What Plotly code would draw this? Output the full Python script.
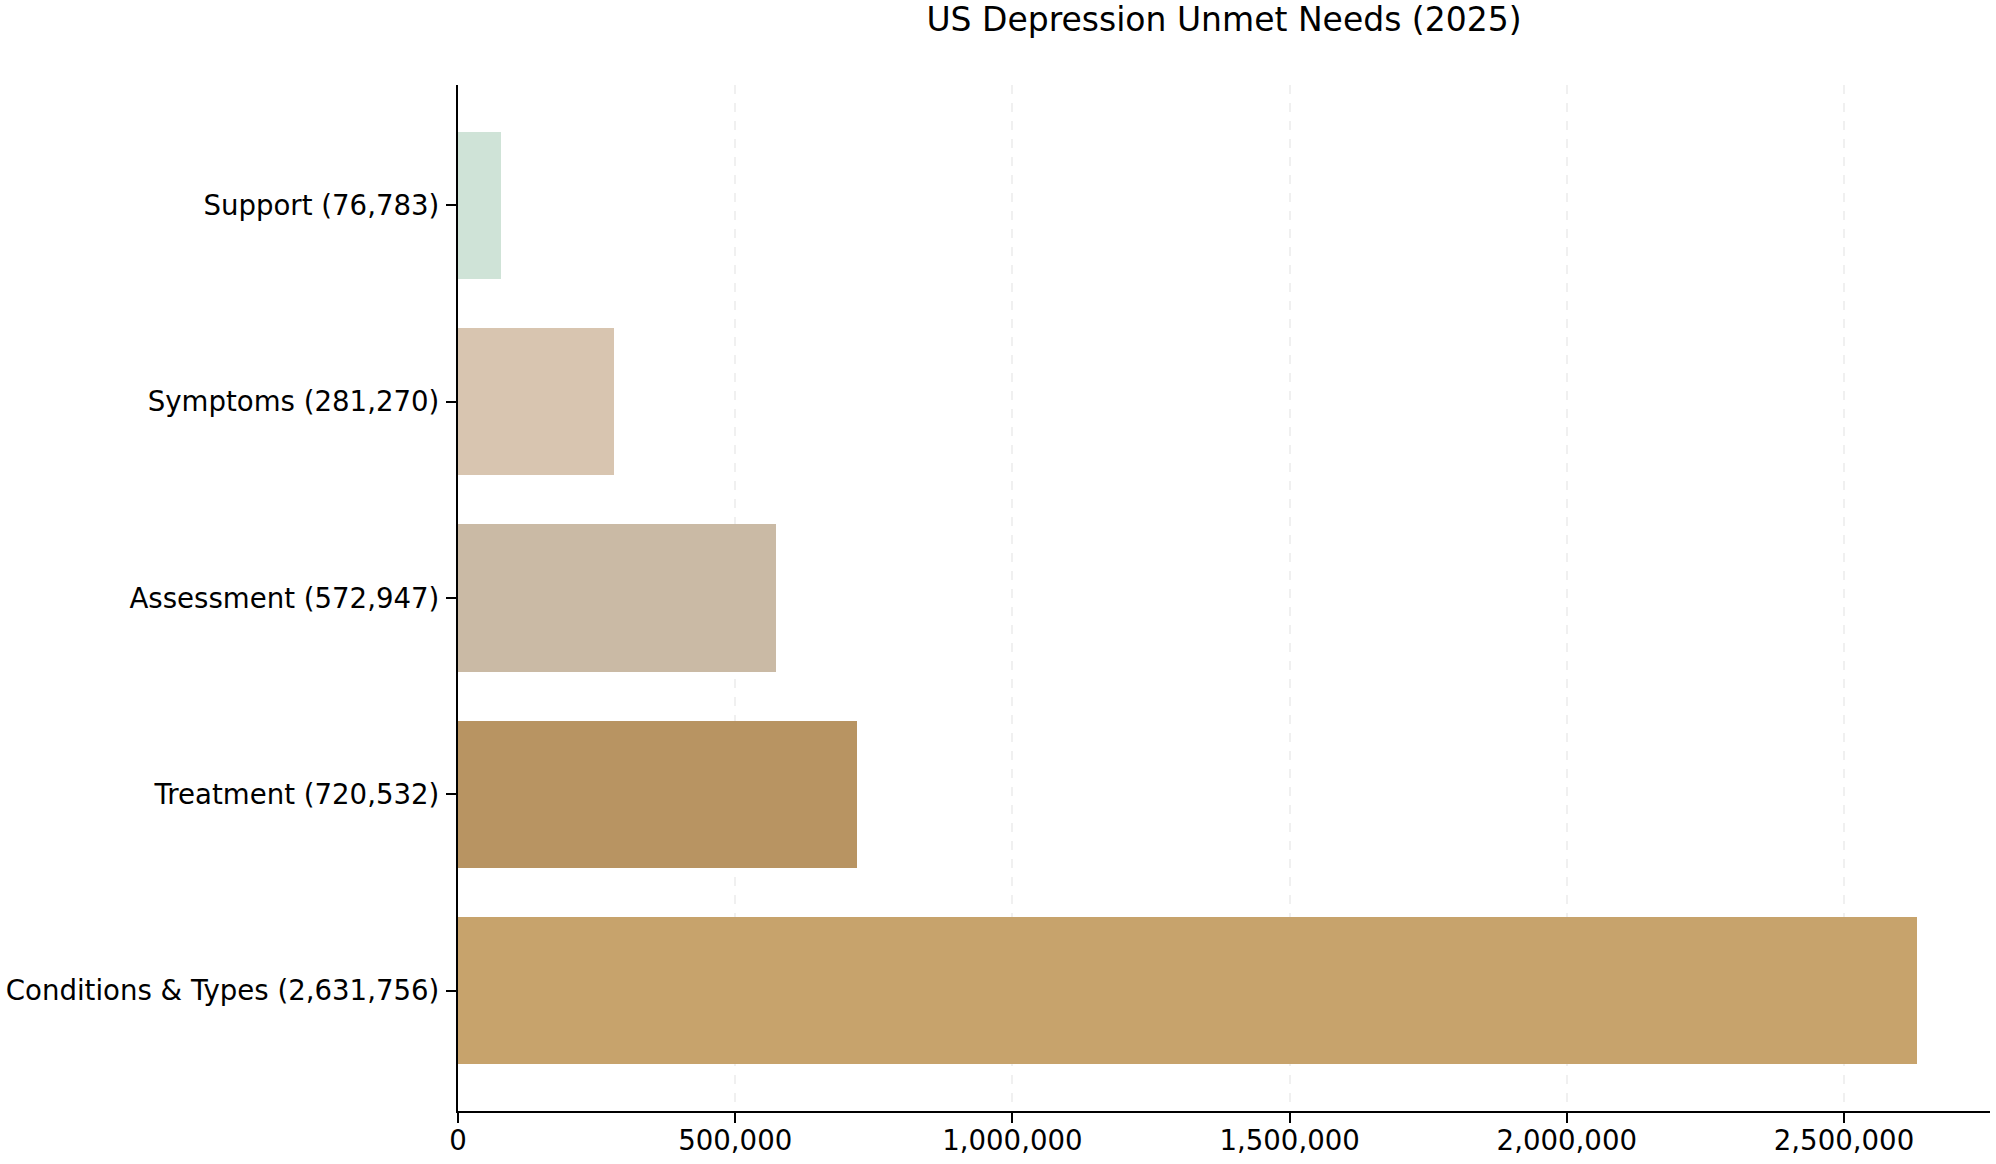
import plotly.graph_objects as go

# unmet needs by category, bottom to top
categories = ["Conditions & Types", "Treatment", "Assessment", "Symptoms", "Support"]
counts = [2631756, 720532, 572947, 281270, 76783]
bar_colors = ["#c7a36c", "#b89462", "#cabaa5", "#d8c5b0", "#cfe3d7"]

labels = [f"{c} ({v:,})" for c, v in zip(categories, counts)]
x_ticks = [0, 500000, 1000000, 1500000, 2000000, 2500000]

fig = go.Figure()
fig.add_trace(go.Bar(
    x=counts,
    y=labels,
    orientation="h",
    width=0.75,
    marker=dict(color=bar_colors, line=dict(width=0)),
    hovertemplate="%{y}<extra></extra>",
))

fig.update_layout(
    width=1996,
    height=1164,
    plot_bgcolor="white",
    paper_bgcolor="white",
    font=dict(family="DejaVu Sans", size=27.6, color="black"),
    title=dict(
        text="US Depression Unmet Needs (2025)",
        x=0.5,
        xref="paper",
        xanchor="center",
        y=1 - 19 / 1164,
        yanchor="middle",
        font=dict(size=33, color="black"),
    ),
    margin=dict(l=458, r=6, t=85, b=53),
    showlegend=False,
    bargap=0,
)

fig.update_xaxes(
    range=[0, max(counts) * 1.05],
    tickvals=x_ticks,
    tickformat=",",
    showline=True,
    linecolor="black",
    linewidth=2.2,
    ticks="outside",
    ticklen=10,
    tickwidth=2.2,
    tickcolor="black",
    showgrid=True,
    gridcolor="rgba(0,0,0,0.06)",
    gridwidth=1.5,
    griddash="dash",
    zeroline=False,
    layer="above traces",
    ticklabelstandoff=-6,
    automargin=False,
)

fig.update_yaxes(
    range=[-0.6125, 4.6125],
    showline=True,
    linecolor="black",
    linewidth=2.2,
    ticks="outside",
    ticklen=10,
    tickwidth=2.2,
    tickcolor="black",
    showgrid=False,
    zeroline=False,
    ticklabelstandoff=1,
    automargin=False,
)

# drop the default page margin so the figure sits at the window corner
fig.write_html(
    "out.html",
    config={"displayModeBar": False},
    post_script="document.body.style.margin = '0';",
)
